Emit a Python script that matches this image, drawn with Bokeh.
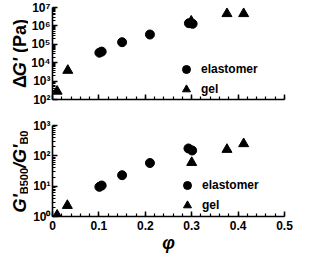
import math
from bokeh.plotting import figure
from bokeh.models import FixedTicker, Label, Legend, LegendItem, Range1d
from bokeh.layouts import column, row
from bokeh.embed import file_html
from bokeh.resources import INLINE

# ---- data ----
el_phi_top = [0.101, 0.106, 0.150, 0.210, 0.294, 0.302]
el_dG = [3.5e4, 4.0e4, 1.3e5, 3.4e5, 1.4e6, 1.3e6]
gel_phi_top = [0.010, 0.033, 0.299, 0.376, 0.412]
gel_dG = [2.8e2, 3.8e3, 1.8e6, 4.6e6, 4.6e6]

el_phi_bot = [0.101, 0.106, 0.150, 0.210, 0.293, 0.301]
el_ratio = [9.5, 10.5, 23.0, 58.0, 175.0, 150.0]
gel_phi_bot = [0.010, 0.032, 0.300, 0.376, 0.412]
gel_ratio = [1.1, 2.3, 60.0, 162.0, 250.0]

x_ticks = [0, 0.1, 0.2, 0.3, 0.4, 0.5]
x_tick_labels = ["0", "0.1", "0.2", "0.3", "0.4", "0.5"]
x_minor = [i * 0.02 for i in range(26)]

top_y_ticks = [1e2, 1e3, 1e4, 1e5, 1e6, 1e7]
top_y_labels = ["10²", "10³", "10⁴", "10⁵", "10⁶", "10⁷"]
bot_y_ticks = [1e0, 1e1, 1e2, 1e3]
bot_y_labels = ["10⁰", "10¹", "10²", "10³"]

FONT = "Liberation Sans"
LW = 28          # width of the y-label strip
W = 293 - LW     # width of the plots
H_TOP, H_BOT = 113, 142


def log_minor(ticks):
    out = []
    for t in ticks[:-1]:
        out += [m * t for m in range(2, 10)]
    return out


def style(p, yticks, ylabels, show_x_labels):
    p.outline_line_color = None
    p.xgrid.grid_line_color = None
    p.ygrid.grid_line_color = None
    p.xaxis.ticker = FixedTicker(ticks=x_ticks, minor_ticks=x_minor)
    p.xaxis.major_label_overrides = {t: l for t, l in zip(x_ticks, x_tick_labels)}
    p.yaxis.ticker = FixedTicker(ticks=yticks, minor_ticks=log_minor(yticks))
    p.yaxis.major_label_overrides = {t: l for t, l in zip(yticks, ylabels)}
    for ax in (p.xaxis[0], p.yaxis[0]):
        ax.axis_line_color = "black"
        ax.axis_line_width = 1.6
        ax.major_tick_line_color = "black"
        ax.minor_tick_line_color = "black"
        ax.major_tick_line_width = 1.5
        ax.minor_tick_line_width = 1.2
        ax.major_tick_in = 5
        ax.major_tick_out = 0
        ax.minor_tick_in = 3
        ax.minor_tick_out = 0
        ax.major_label_text_font = FONT
        ax.major_label_text_font_style = "bold"
        ax.major_label_text_font_size = "12px"
        ax.major_label_text_color = "black"
    p.yaxis.major_label_standoff = 2
    p.xaxis.major_label_standoff = 4
    if not show_x_labels:
        p.xaxis.major_label_text_color = None
        p.xaxis.major_label_standoff = 0


def add_legend(p, r1, r2, loc, spacing):
    leg = Legend(items=[LegendItem(label="elastomer", renderers=[r1]),
                        LegendItem(label="gel", renderers=[r2])],
                 location=loc, orientation="vertical",
                 glyph_width=20, glyph_height=20, label_height=20, spacing=spacing,
                 padding=0, margin=0, label_standoff=5,
                 background_fill_alpha=0, border_line_color=None,
                 label_text_font=FONT, label_text_font_style="bold",
                 label_text_font_size="12px", label_text_color="black")
    p.add_layout(leg)


# ---- top panel ----
p1 = figure(width=W, height=H_TOP, x_range=Range1d(0, 0.5), y_range=Range1d(1e2, 1e7),
            y_axis_type="log", output_backend="svg", toolbar_location=None,
            min_border_left=19, min_border_right=9, min_border_top=7, min_border_bottom=14)
style(p1, top_y_ticks, top_y_labels, False)
r1 = p1.scatter(el_phi_top, el_dG, marker="circle", size=9, color="black")
r2 = p1.scatter(gel_phi_top, gel_dG, marker="triangle", size=10, color="black")
add_legend(p1, r1, r2, (124, 0), -4)

# ---- bottom panel ----
p2 = figure(width=W, height=H_BOT, x_range=Range1d(0, 0.5), y_range=Range1d(1e0, 1e3),
            y_axis_type="log", output_backend="svg", toolbar_location=None,
            min_border_left=19, min_border_right=9, min_border_top=12, min_border_bottom=38)
style(p2, bot_y_ticks, bot_y_labels, True)
r3 = p2.scatter(el_phi_bot, el_ratio, marker="circle", size=9, color="black")
r4 = p2.scatter(gel_phi_bot, gel_ratio, marker="triangle", size=10, color="black")
add_legend(p2, r3, r4, (125, 1), -6)
p2.xaxis.axis_label = "φ"
p2.xaxis.axis_label_text_font = FONT
p2.xaxis.axis_label_text_font_style = "bold italic"
p2.xaxis.axis_label_text_font_size = "18px"
p2.xaxis.axis_label_text_color = "black"
p2.xaxis.axis_label_standoff = 0

# ---- y-label strip (1 unit = 1 px) ----
H = H_TOP + H_BOT
pl = figure(width=LW, height=H, x_range=Range1d(0, LW), y_range=Range1d(0, H),
            output_backend="svg", toolbar_location=None,
            min_border_left=0, min_border_right=0, min_border_top=0, min_border_bottom=0)
pl.axis.visible = False
pl.grid.visible = False
pl.outline_line_color = None


def ylabel_pieces(pieces, y0):
    y = y0
    for text, size, fstyle, bx, adv in pieces:
        pl.add_layout(Label(x=bx, y=y, x_units="screen", y_units="screen", text=text,
                            angle=math.pi / 2, text_align="left", text_baseline="alphabetic",
                            text_font=FONT, text_font_style=fstyle,
                            text_font_size=f"{size}px", text_color="black"))
        y += adv


bx, sx = 19, 23
ylabel_pieces([("Δ", 18, "bold", bx, 11.7),
               ("G'", 18, "bold italic", bx, 23.3),
               ("(Pa)", 18, "bold", bx, 34.0)], 167.5)
ylabel_pieces([("G'", 18, "bold italic", bx, 18.3),
               ("B500", 11, "bold", sx, 26.3),
               ("/G'", 18, "bold italic", bx, 23.3),
               ("B0", 11, "bold", sx, 14.1)], 43)

layout = row(pl, column(p1, p2))
open("out.html", "w").write(file_html(layout, INLINE))
